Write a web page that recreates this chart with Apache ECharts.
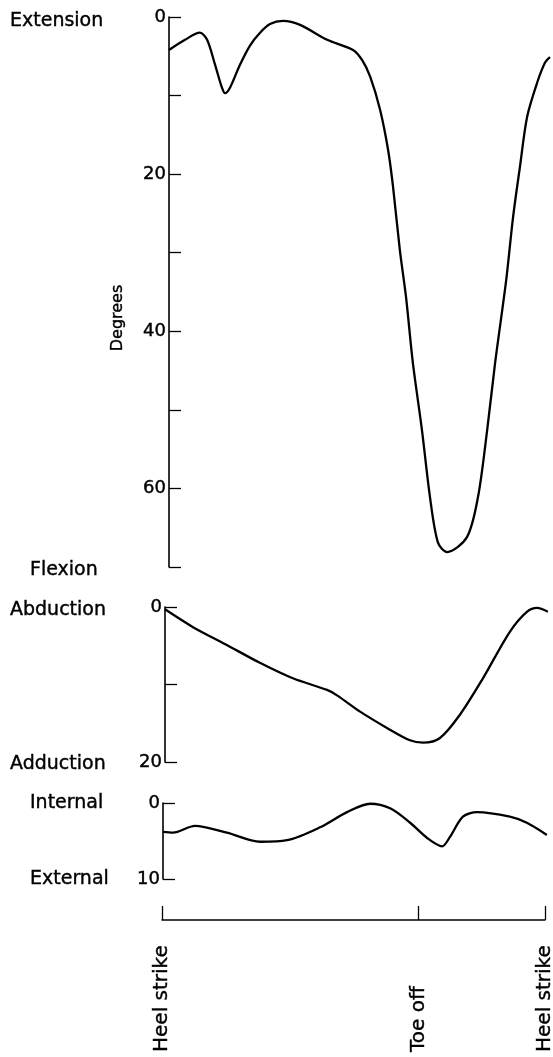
<!DOCTYPE html>
<html><head><meta charset="utf-8">
<script src="https://cdn.jsdelivr.net/npm/echarts@6/dist/echarts.min.js"></script>
<style>html,body{margin:0;padding:0;background:#fff}#c{width:553px;height:1057px}</style>
</head><body><div id="c"></div>
<script>
// Knee flexion / extension (% of gait cycle, degrees of flexion)
const sagittalPct = [0, 4.2, 8.1, 10.0, 12.1, 13.9, 14.7, 16.0, 18.6, 21.3, 23.9, 26.5, 29.9, 34.4, 41.5, 48.3, 50.7, 52.8, 55.4, 57.5, 58.8, 60.6, 62.2, 64.0, 66.4, 68.5, 70.6, 73.0, 78.2, 81.1, 83.5, 85.6, 88.5, 90.3, 92.1, 94.0, 96.6, 98.7, 100];
const sagittalDeg = [4.2, 2.9, 2.0, 2.9, 6.1, 9.0, 9.7, 9.0, 6.1, 3.6, 2.0, 0.9, 0.5, 1.0, 2.9, 4.2, 5.5, 7.6, 11.8, 16.9, 21.6, 29.7, 35.6, 44.0, 52.6, 61.1, 66.9, 68.1, 66.2, 61.1, 52.6, 44.0, 33.5, 25.5, 19.1, 12.7, 8.4, 5.8, 5.1];
// Abduction / adduction
const coronalPct = [0, 7.3, 16.1, 24.7, 33.3, 42.2, 44.8, 50.8, 57.8, 63.8, 67.2, 71.6, 76.8, 82.8, 89.8, 94.3, 96.9, 99.7];
const coronalDeg = [0.3, 2.6, 4.9, 7.2, 9.2, 10.7, 11.4, 13.5, 15.6, 17.2, 17.5, 16.9, 13.9, 9.2, 3.2, 0.6, 0.1, 0.6];
// Internal / external rotation
const rotationPct = [0, 2.6, 8.3, 16.6, 25.2, 32.2, 40.8, 47.8, 53.8, 59.0, 64.2, 68.6, 72.5, 74.5, 77.9, 81.6, 90.1, 94.5, 99.7];
const rotationDeg = [3.8, 3.9, 3.0, 3.9, 5.1, 4.9, 3.2, 1.2, 0.1, 0.7, 2.6, 4.6, 5.7, 4.5, 1.8, 1.2, 1.8, 2.6, 4.2];
// Gait events
const eventPct = [0, 67, 100];
const eventLabels = ['Heel strike', 'Toe off', 'Heel strike'];

const FONT = '"DejaVu Sans", sans-serif';
const INK = '#000';
const pairs = (xs, ys) => xs.map((x, i) => [x, ys[i]]);

function yAxis(gi, max, interval, labelStep) {
  return {
    gridIndex: gi, type: 'value', inverse: true, min: 0, max: max, interval: interval,
    axisLine: { show: true, lineStyle: { color: INK, width: 1.6 } },
    axisTick: { show: true, inside: true, length: 12, lineStyle: { color: INK, width: 1.3 } },
    axisLabel: { show: true, margin: 3, color: INK, fontSize: 18, fontFamily: FONT, padding: [6, 0, 0, 0],
      textBorderColor: INK, textBorderWidth: 0.4,
      formatter: v => (v % labelStep === 0 ? String(v) : '') },
    splitLine: { show: false }
  };
}
function hiddenX(gi) {
  return { gridIndex: gi, type: 'value', min: 0, max: 100, show: false };
}
function lineSeries(gi, data) {
  return { type: 'line', xAxisIndex: gi, yAxisIndex: gi, data: data, smooth: 0.3,
    symbol: 'none', lineStyle: { color: INK, width: 2.3 }, silent: true, clip: false };
}

const txt = (text, x, y, extra) => Object.assign({ type: 'text', x: x, y: y,
  style: { text: text, font: '19px ' + FONT, fill: INK, stroke: INK, lineWidth: 0.4,
    align: 'left', verticalAlign: 'middle' } }, extra || {});

const chart = echarts.init(document.getElementById('c'), null, { renderer: 'canvas' });
chart.setOption({
  animation: false,
  backgroundColor: '#fff',
  grid: [
    { left: 169, top: 17, width: 381, height: 550, outerBoundsMode: 'none' },
    { left: 165, top: 607, width: 384, height: 155, outerBoundsMode: 'none' },
    { left: 163, top: 803, width: 385, height: 76, outerBoundsMode: 'none' },
    { left: 162, top: 919, width: 383, height: 1, outerBoundsMode: 'none' }
  ],
  xAxis: [
    hiddenX(0), hiddenX(1), hiddenX(2),
    { gridIndex: 3, type: 'value', min: 0, max: 100, position: 'bottom',
      axisLine: { show: true, lineStyle: { color: INK, width: 1.5 } },
      axisTick: { show: true, inside: true, length: 14, customValues: eventPct, lineStyle: { color: INK, width: 1.3 } },
      axisLabel: { show: false }, splitLine: { show: false } },
    { gridIndex: 3, type: 'value', min: 0, max: 100, position: 'bottom', offset: 132,
      axisLine: { show: false }, axisTick: { show: false }, splitLine: { show: false },
      axisLabel: { show: true, customValues: eventPct, rotate: 90, align: 'left', verticalAlign: 'middle',
        margin: 0, color: INK, fontSize: 20, fontFamily: FONT, textBorderColor: INK, textBorderWidth: 0.4,
        formatter: v => eventLabels[eventPct.indexOf(v)] } }
  ],
  yAxis: [
    yAxis(0, 70, 10, 20),
    yAxis(1, 20, 10, 20),
    yAxis(2, 10, 10, 10),
    { gridIndex: 3, type: 'value', show: false }
  ],
  series: [
    lineSeries(0, pairs(sagittalPct, sagittalDeg)),
    lineSeries(1, pairs(coronalPct, coronalDeg)),
    lineSeries(2, pairs(rotationPct, rotationDeg))
  ],
  graphic: [
    txt('Extension', 10, 21),
    txt('Flexion', 30, 570),
    txt('Abduction', 10, 610),
    txt('Adduction', 10, 764),
    txt('Internal', 30, 803),
    txt('External', 30, 879),
    { type: 'text', x: 118, y: 318, rotation: Math.PI / 2,
      style: { text: 'Degrees', font: '16px ' + FONT, fill: INK, stroke: INK, lineWidth: 0.4,
        align: 'center', verticalAlign: 'middle' } }
  ]
});
</script>
</body></html>
